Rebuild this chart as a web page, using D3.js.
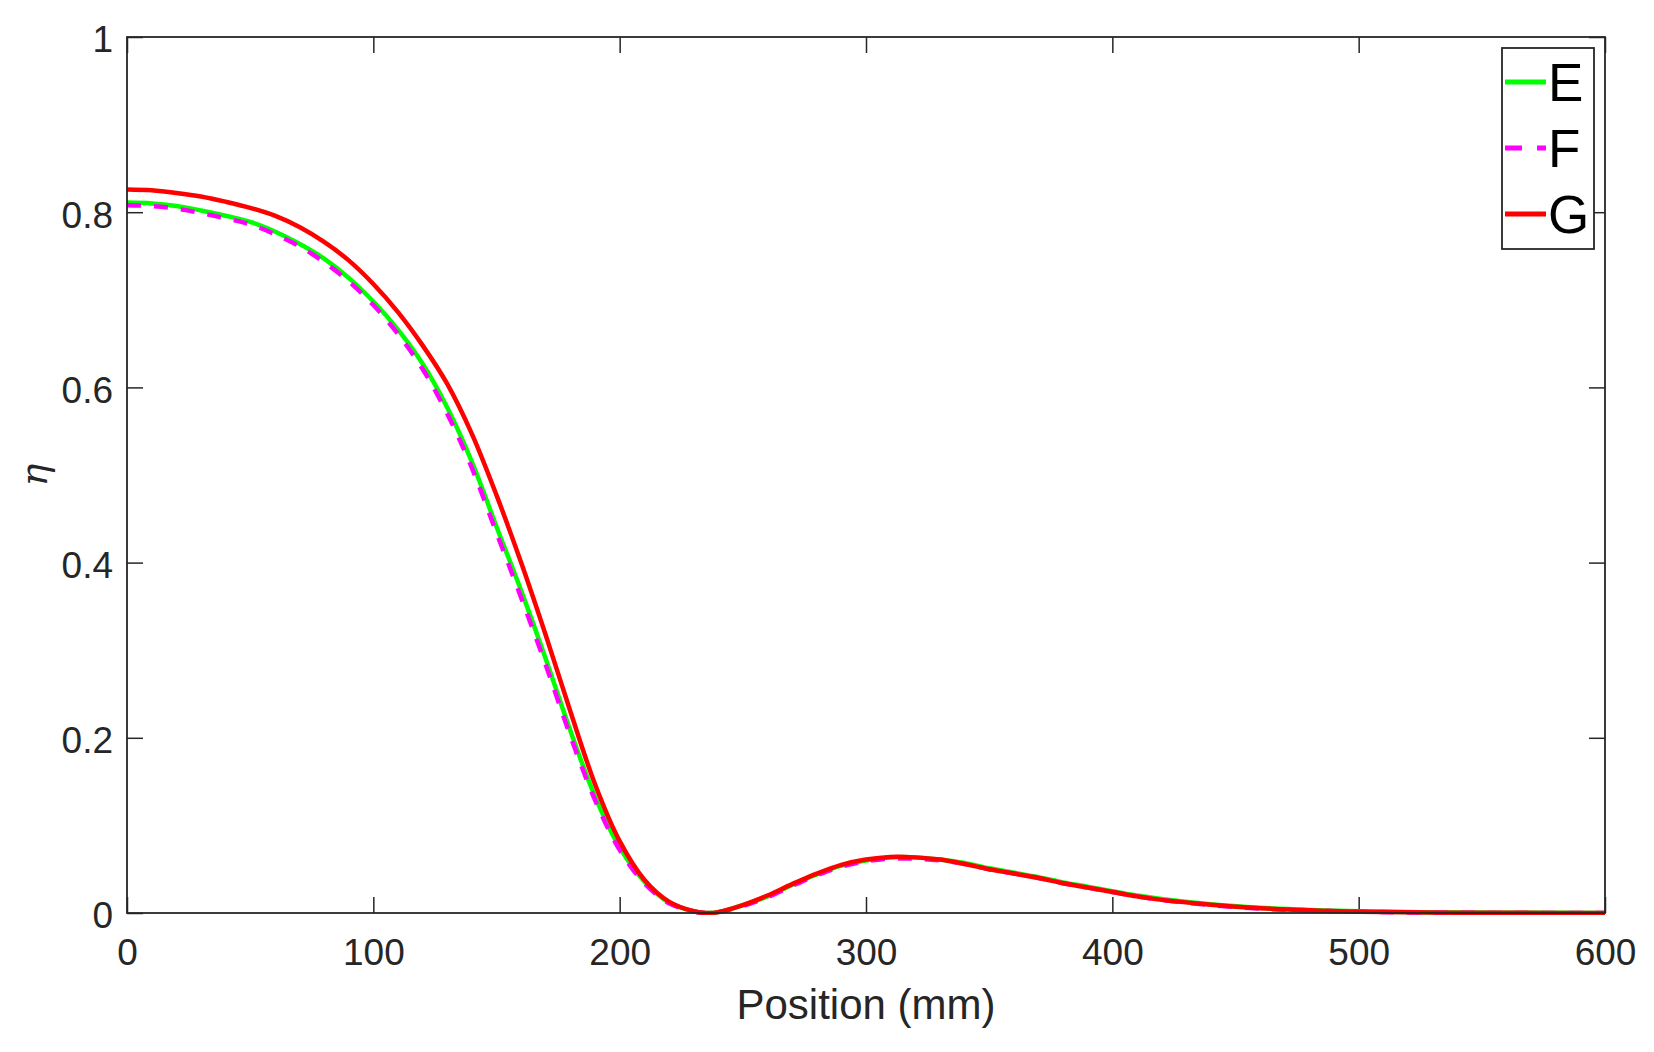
<!DOCTYPE html>
<html>
<head>
<meta charset="utf-8">
<script src="https://cdn.jsdelivr.net/npm/d3@7"></script>
<style>
  body { margin: 0; background: #fff; }
  svg { display: block; font-family: "Liberation Sans", Arial, Helvetica, sans-serif; }
</style>
</head>
<body>
<div id="chart"></div>
<script>
// positions along the profile (mm)
const positions = [0, 10, 20, 30, 40, 50, 60, 70, 80, 90, 100, 110, 120, 130, 140, 150, 160, 170, 180, 190,
  200, 210, 220, 230, 235, 240, 250, 260, 270, 280, 290, 300, 310, 320, 330, 340, 350, 360, 370, 380, 390,
  400, 410, 420, 440, 460, 480, 500, 530, 560, 600];

const seriesE = [0.811, 0.810, 0.807, 0.802, 0.796, 0.789, 0.778, 0.764, 0.747, 0.725, 0.698, 0.666, 0.627,
  0.577, 0.515, 0.441, 0.368, 0.290, 0.208, 0.133, 0.075, 0.036, 0.012, 0.002, 0.000, 0.001, 0.009, 0.019,
  0.032, 0.044, 0.054, 0.060, 0.0635, 0.0635, 0.061, 0.057, 0.051, 0.046, 0.041, 0.035, 0.030, 0.025, 0.020,
  0.016, 0.010, 0.006, 0.0035, 0.002, 0.0007, 0.0003, 0.0];

const seriesF = [0.808, 0.807, 0.804, 0.799, 0.793, 0.786, 0.775, 0.761, 0.743, 0.721, 0.694, 0.661, 0.621,
  0.570, 0.508, 0.434, 0.360, 0.283, 0.202, 0.129, 0.072, 0.034, 0.011, 0.002, 0.000, 0.001, 0.008, 0.018,
  0.031, 0.043, 0.053, 0.059, 0.062, 0.062, 0.060, 0.056, 0.050, 0.045, 0.040, 0.034, 0.029, 0.024, 0.019,
  0.015, 0.009, 0.005, 0.003, 0.0015, 0.0004, 0.0001, 0.0];

const seriesG = [0.826, 0.825, 0.822, 0.818, 0.812, 0.805, 0.796, 0.783, 0.766, 0.745, 0.718, 0.686, 0.648,
  0.604, 0.547, 0.477, 0.400, 0.317, 0.230, 0.147, 0.082, 0.038, 0.013, 0.002, 0.000, 0.001, 0.009, 0.020,
  0.033, 0.045, 0.055, 0.061, 0.064, 0.0635, 0.061, 0.056, 0.050, 0.045, 0.040, 0.034, 0.029, 0.024, 0.019,
  0.015, 0.0095, 0.0055, 0.003, 0.0015, 0.0005, 0.0002, 0.0];

const seriesNames = ['E', 'F', 'G'];
const xTicks = [0, 100, 200, 300, 400, 500, 600];
const yTicks = [0, 0.2, 0.4, 0.6, 0.8, 1];

const axisColour = '#262626';

const styles = {
  E: { colour: '#00ff00', dash: null },
  F: { colour: '#ff00ff', dash: '14,13' },
  G: { colour: '#ff0000', dash: null }
};

const config = { width: 1654, height: 1052 };
const margin = { top: 37, right: 49, bottom: 139, left: 127 };
const width = config.width - margin.left - margin.right;
const height = config.height - margin.top - margin.bottom;

const svg = d3.select('#chart')
  .append('svg')
  .attr('width', config.width)
  .attr('height', config.height);

const x = d3.scaleLinear().domain([0, 600]).range([0, width]);
const y = d3.scaleLinear().domain([0, 1]).range([height, 0]);

const g = svg.append('g').attr('transform', `translate(${margin.left},${margin.top})`);

// axes, ticks pointing inwards
const styleAxis = sel => {
  sel.select('.domain').remove();
  sel.selectAll('line').attr('stroke', axisColour).attr('stroke-width', 1.5);
  sel.selectAll('text').attr('fill', axisColour).style('font-size', '37px');
};

g.append('g')
  .attr('transform', `translate(0,${height})`)
  .call(d3.axisBottom(x).tickValues(xTicks).tickSizeInner(-16).tickSizeOuter(0).tickPadding(26).tickFormat(d3.format('d')))
  .call(styleAxis);

g.append('g')
  .call(d3.axisTop(x).tickValues(xTicks).tickSizeInner(-16).tickSizeOuter(0).tickFormat(''))
  .call(styleAxis);

g.append('g')
  .call(d3.axisLeft(y).tickValues(yTicks).tickSizeInner(-16).tickSizeOuter(0).tickPadding(14).tickFormat(d => d === 0 || d === 1 ? d : d.toFixed(1)))
  .call(styleAxis)
  .selectAll('text').attr('dy', '0.4em');

g.append('g')
  .attr('transform', `translate(${width},0)`)
  .call(d3.axisRight(y).tickValues(yTicks).tickSizeInner(-16).tickSizeOuter(0).tickFormat(''))
  .call(styleAxis);

// lines
const data = [seriesE, seriesF, seriesG].map((values, i) => ({
  name: seriesNames[i],
  points: positions.map((p, j) => ({ x: p, y: values[j] }))
}));

const line = d3.line()
  .x(d => x(d.x))
  .y(d => y(d.y))
  .curve(d3.curveCatmullRom.alpha(0.5));

const clip = svg.append('defs').append('clipPath').attr('id', 'plot-clip');
clip.append('rect').attr('x', 0).attr('y', -10).attr('width', width + 2).attr('height', height + 12);

g.append('g')
  .attr('clip-path', 'url(#plot-clip)')
  .selectAll('path')
  .data(data)
  .join('path')
  .attr('d', d => line(d.points))
  .attr('fill', 'none')
  .attr('stroke', d => styles[d.name].colour)
  .attr('stroke-width', 4.5)
  .attr('stroke-dasharray', d => styles[d.name].dash);

// box
g.append('rect')
  .attr('width', width)
  .attr('height', height)
  .attr('fill', 'none')
  .attr('stroke', axisColour)
  .attr('stroke-width', 1.8);

// axis labels
svg.append('text')
  .attr('x', margin.left + width / 2)
  .attr('y', 1019)
  .attr('text-anchor', 'middle')
  .attr('fill', axisColour)
  .style('font-size', '42px')
  .text('Position (mm)');

svg.append('text')
  .attr('transform', `translate(47,${margin.top + height / 2}) rotate(-90)`)
  .attr('text-anchor', 'middle')
  .attr('fill', axisColour)
  .style('font-size', '38px')
  .style('font-style', 'italic')
  .style('font-family', '"DejaVu Serif", "Liberation Serif", serif')
  .text('η');

// legend
const legend = svg.append('g').attr('transform', 'translate(1502,48)');
legend.append('rect')
  .attr('width', 92)
  .attr('height', 201)
  .attr('fill', '#fff')
  .attr('stroke', axisColour)
  .attr('stroke-width', 1.8);

const item = legend.selectAll('.item')
  .data(seriesNames)
  .join('g')
  .attr('class', 'item')
  .attr('transform', (d, i) => `translate(0,${34 + i * 66})`);

item.append('line')
  .attr('x1', 3)
  .attr('x2', 44)
  .attr('stroke', d => styles[d].colour)
  .attr('stroke-width', 5)
  .attr('stroke-dasharray', d => (styles[d].dash ? '17,15' : null));

item.append('text')
  .attr('x', 46)
  .attr('y', 19)
  .style('font-size', '53px')
  .attr('fill', '#000')
  .text(d => d);
</script>
</body>
</html>
